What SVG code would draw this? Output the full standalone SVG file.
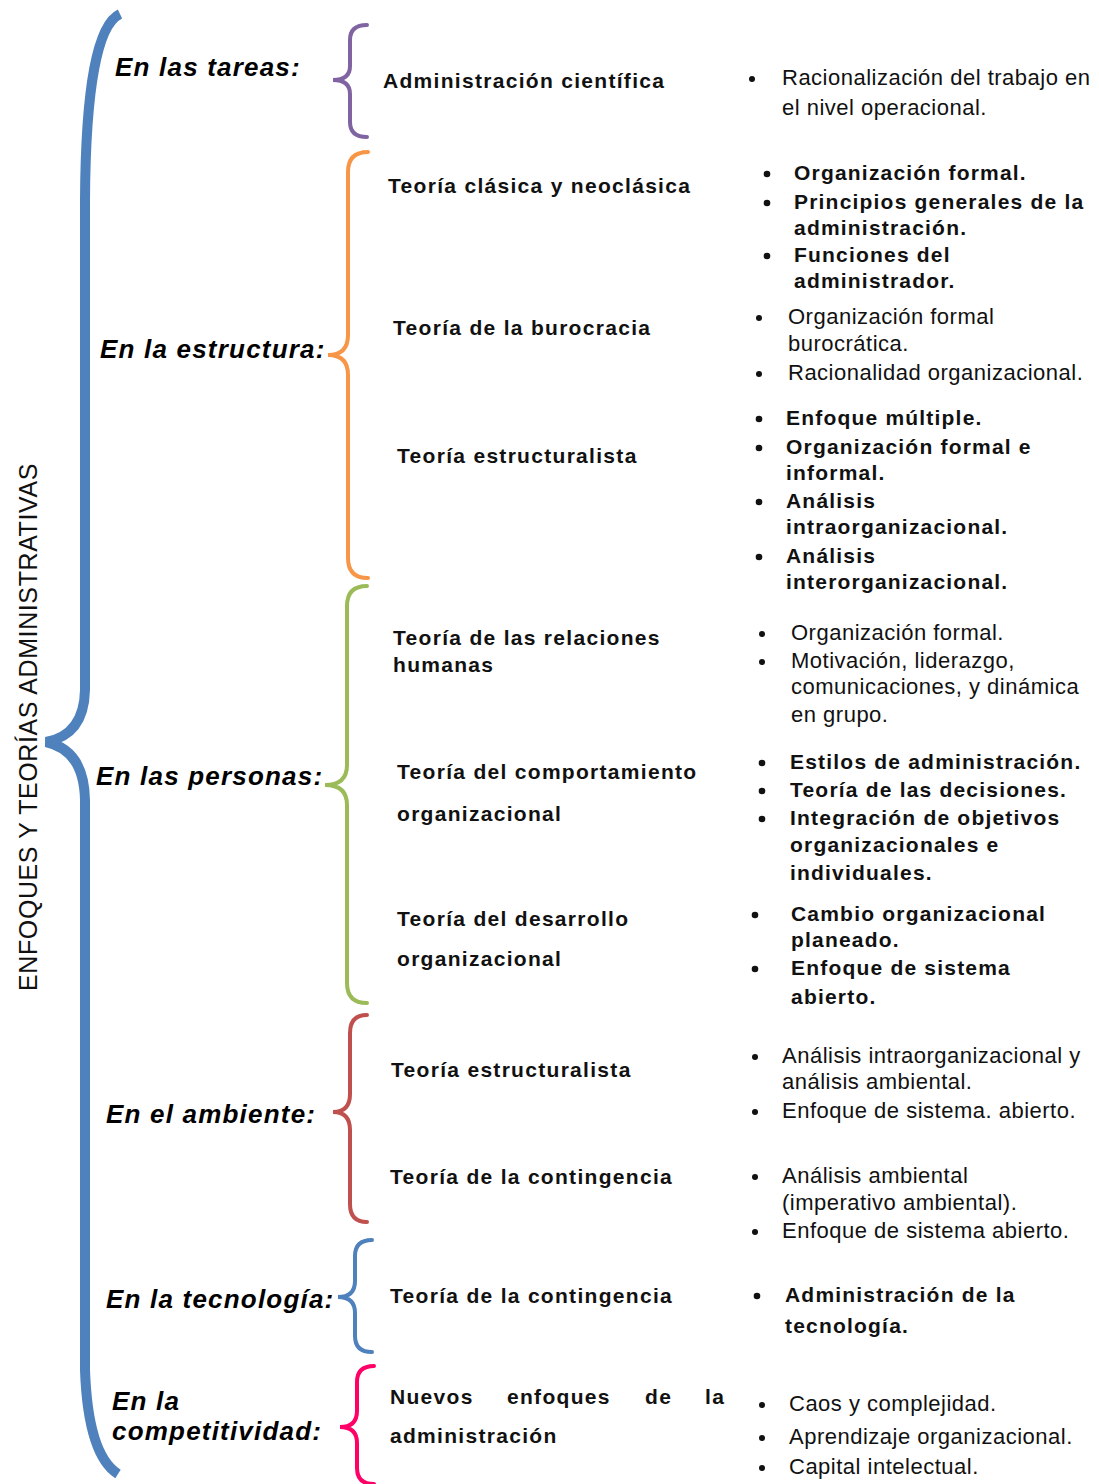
<svg xmlns="http://www.w3.org/2000/svg" width="1099" height="1484" viewBox="0 0 1099 1484">
<style>
.cat{font-family:"Liberation Sans",Arial,sans-serif;font-weight:bold;font-style:italic;font-size:26px;letter-spacing:1.2px;fill:#000}
.th{font-family:"Liberation Sans",Arial,sans-serif;font-weight:bold;font-size:21px;letter-spacing:1.3px;fill:#111}
.r{font-family:"Liberation Sans",Arial,sans-serif;font-size:22px;letter-spacing:0.5px;fill:#111}
.b{font-family:"Liberation Sans",Arial,sans-serif;font-weight:bold;font-size:21px;letter-spacing:1.2px;fill:#111}
.v{font-family:"Liberation Sans",Arial,sans-serif;font-size:25px;letter-spacing:0.6px;fill:#111}
.br{fill:none;stroke-width:4;stroke-linecap:round}
</style>
<rect width="1099" height="1484" fill="#fff"/>
<g id="connectors">
<path d="M120,14 Q86,30 85,200 L85,690 Q84,735 46,742 Q84,750 85,800 L85,1370 Q88,1455 118,1474" fill="none" stroke="#4f81bd" stroke-width="10"/>
<path class="br" stroke="#8064a2" d="M367,25 Q350,25 350,40 L350,66 Q350,80 333,80 Q350,80 350,94 L350,122 Q350,137 367,137"/>
<path class="br" stroke="#f79646" d="M368,152 Q348,152 348,172 L348,335 Q348,355 328,355 Q348,355 348,375 L348,558 Q348,578 368,578"/>
<path class="br" stroke="#9bbb59" d="M367,586 Q347,586 347,606 L347,765 Q347,785 325,785 Q347,785 347,805 L347,983 Q347,1003 367,1003"/>
<path class="br" stroke="#c0504d" d="M367,1015 Q350,1015 350,1033 L350,1094 Q350,1112 333,1112 Q350,1112 350,1130 L350,1204 Q350,1222 367,1222"/>
<path class="br" stroke="#4f81bd" d="M372,1240 Q355,1240 355,1256 L355,1281 Q355,1297 338,1297 Q355,1297 355,1313 L355,1336 Q355,1352 372,1352"/>
<path class="br" stroke="#ff0066" d="M374,1366 Q357,1366 357,1382 L357,1411 Q357,1427 340,1427 Q357,1427 357,1443 L357,1468 Q357,1484 374,1484"/>
</g>
<g id="root"><text class="v" transform="translate(37,727) rotate(-90)" text-anchor="middle">ENFOQUES Y TEORÍAS ADMINISTRATIVAS</text></g>
<g id="cat-tareas"><text class="cat" x="115" y="76">En las tareas:</text></g>
<g id="cat-estructura"><text class="cat" x="100" y="358">En la estructura:</text></g>
<g id="cat-personas"><text class="cat" x="96" y="785">En las personas:</text></g>
<g id="cat-ambiente"><text class="cat" x="106" y="1123">En el ambiente:</text></g>
<g id="cat-tecnologia"><text class="cat" x="106" y="1308">En la tecnología:</text></g>
<g id="cat-competitividad"><text class="cat" x="112" y="1410">En la</text><text class="cat" x="112" y="1440">competitividad:</text></g>

<g id="th-admcientifica"><text class="th" x="383" y="88">Administración científica</text></g>
<g id="th-clasica"><text class="th" x="388" y="193">Teoría clásica y neoclásica</text></g>
<g id="th-burocracia"><text class="th" x="393" y="335">Teoría de la burocracia</text></g>
<g id="th-estructuralista1"><text class="th" x="397" y="463">Teoría estructuralista</text></g>
<g id="th-relaciones"><text class="th" x="393" y="645">Teoría de las relaciones</text><text class="th" x="393" y="672">humanas</text></g>
<g id="th-comportamiento"><text class="th" x="397" y="779">Teoría del comportamiento</text><text class="th" x="397" y="821">organizacional</text></g>
<g id="th-desarrollo"><text class="th" x="397" y="926">Teoría del desarrollo</text><text class="th" x="397" y="966">organizacional</text></g>
<g id="th-estructuralista2"><text class="th" x="391" y="1077">Teoría estructuralista</text></g>
<g id="th-contingencia1"><text class="th" x="390" y="1184">Teoría de la contingencia</text></g>
<g id="th-contingencia2"><text class="th" x="390" y="1303">Teoría de la contingencia</text></g>
<g id="th-nuevos"><text class="th" y="1404"><tspan x="390">Nuevos</tspan><tspan x="507">enfoques</tspan><tspan x="645">de</tspan><tspan x="705">la</tspan></text><text class="th" x="390" y="1443">administración</text></g>

<g id="bl-1" fill="#111">
<circle cx="752" cy="79" r="3"/>
<text class="r" x="782" y="85">Racionalización del trabajo en</text><text class="r" x="782" y="115">el nivel operacional.</text>
</g>
<g id="bl-2" fill="#111">
<circle cx="767" cy="174" r="3.3"/><circle cx="767" cy="203" r="3.3"/><circle cx="767" cy="256" r="3.3"/>
<text class="b" x="794" y="180">Organización formal.</text>
<text class="b" x="794" y="209">Principios generales de la</text>
<text class="b" x="794" y="235">administración.</text>
<text class="b" x="794" y="262">Funciones del</text>
<text class="b" x="794" y="288">administrador.</text>
</g>
<g id="bl-3" fill="#111">
<circle cx="759" cy="318" r="3"/><circle cx="759" cy="374" r="3"/>
<text class="r" x="788" y="324">Organización formal</text>
<text class="r" x="788" y="351">burocrática.</text>
<text class="r" x="788" y="380">Racionalidad organizacional.</text>
</g>
<g id="bl-4" fill="#111">
<circle cx="759" cy="419" r="3.3"/><circle cx="759" cy="448" r="3.3"/><circle cx="759" cy="502" r="3.3"/><circle cx="759" cy="557" r="3.3"/>
<text class="b" x="786" y="425">Enfoque múltiple.</text>
<text class="b" x="786" y="454">Organización formal e</text>
<text class="b" x="786" y="480">informal.</text>
<text class="b" x="786" y="508">Análisis</text>
<text class="b" x="786" y="534">intraorganizacional.</text>
<text class="b" x="786" y="563">Análisis</text>
<text class="b" x="786" y="589">interorganizacional.</text>
</g>
<g id="bl-5" fill="#111">
<circle cx="762" cy="634" r="3"/><circle cx="762" cy="662" r="3"/>
<text class="r" x="791" y="640">Organización formal.</text>
<text class="r" x="791" y="668">Motivación, liderazgo,</text>
<text class="r" x="791" y="694">comunicaciones, y dinámica</text>
<text class="r" x="791" y="722">en grupo.</text>
</g>
<g id="bl-6" fill="#111">
<circle cx="762" cy="763" r="3.3"/><circle cx="762" cy="791" r="3.3"/><circle cx="762" cy="819" r="3.3"/>
<text class="b" x="790" y="769">Estilos de administración.</text>
<text class="b" x="790" y="797">Teoría de las decisiones.</text>
<text class="b" x="790" y="825">Integración de objetivos</text>
<text class="b" x="790" y="852">organizacionales e</text>
<text class="b" x="790" y="880">individuales.</text>
</g>
<g id="bl-7" fill="#111">
<circle cx="755" cy="915" r="3.3"/><circle cx="755" cy="969" r="3.3"/>
<text class="b" x="791" y="921">Cambio organizacional</text>
<text class="b" x="791" y="947">planeado.</text>
<text class="b" x="791" y="975">Enfoque de sistema</text>
<text class="b" x="791" y="1004">abierto.</text>
</g>
<g id="bl-8" fill="#111">
<circle cx="755" cy="1057" r="3"/><circle cx="755" cy="1112" r="3"/>
<text class="r" x="782" y="1063">Análisis intraorganizacional y</text>
<text class="r" x="782" y="1089">análisis ambiental.</text>
<text class="r" x="782" y="1118">Enfoque de sistema. abierto.</text>
</g>
<g id="bl-9" fill="#111">
<circle cx="755" cy="1177" r="3"/><circle cx="755" cy="1232" r="3"/>
<text class="r" x="782" y="1183">Análisis ambiental</text>
<text class="r" x="782" y="1210">(imperativo ambiental).</text>
<text class="r" x="782" y="1238">Enfoque de sistema abierto.</text>
</g>
<g id="bl-10" fill="#111">
<circle cx="757" cy="1296" r="3.3"/>
<text class="b" x="785" y="1302">Administración de la</text>
<text class="b" x="785" y="1333">tecnología.</text>
</g>
<g id="bl-11" fill="#111">
<circle cx="762" cy="1405" r="3"/><circle cx="762" cy="1438" r="3"/><circle cx="762" cy="1468" r="3"/>
<text class="r" x="789" y="1411">Caos y complejidad.</text>
<text class="r" x="789" y="1444">Aprendizaje organizacional.</text>
<text class="r" x="789" y="1474">Capital intelectual.</text>
</g>
</svg>
